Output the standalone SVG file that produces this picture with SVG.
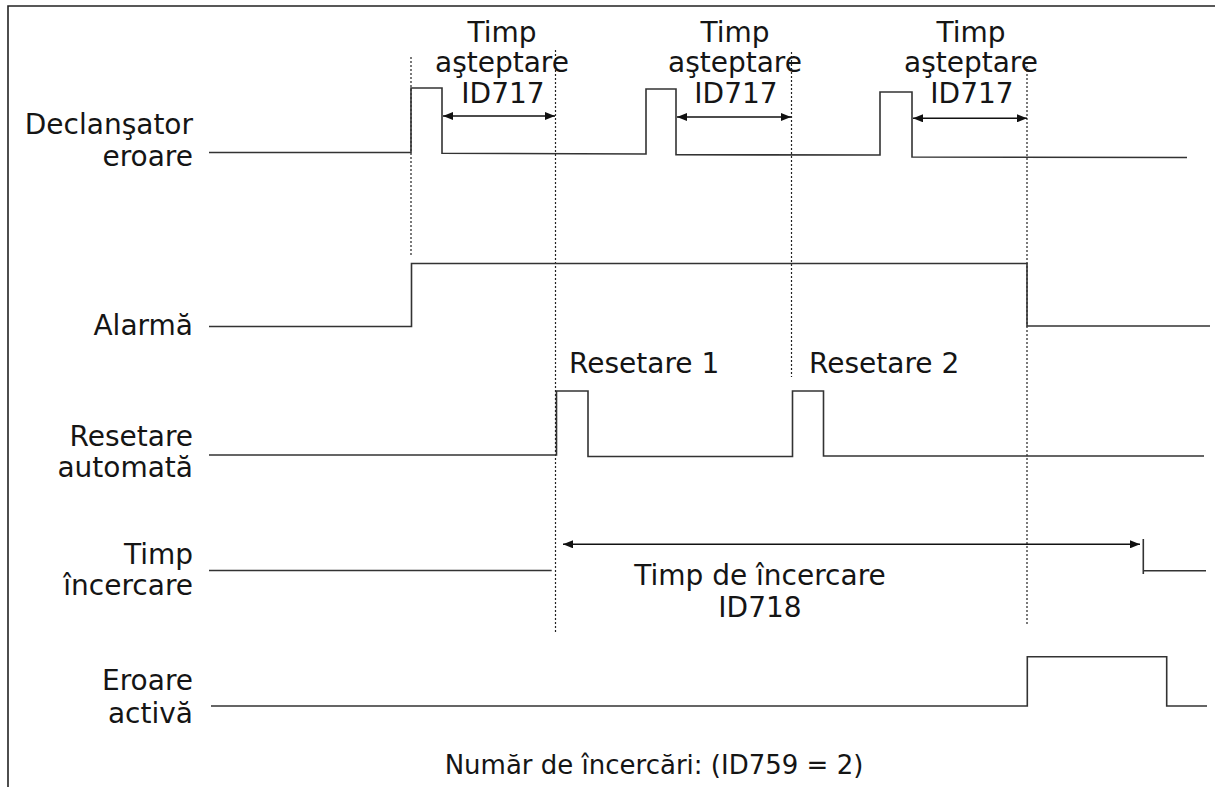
<svg xmlns="http://www.w3.org/2000/svg" width="1215" height="787" viewBox="0 0 1215 787">
<style>
text{font-family:"DejaVu Sans","Verdana",sans-serif;font-size:28px;fill:#151515}
.lbl{text-anchor:end}
.ctr{text-anchor:middle}
.sig{fill:none;stroke:#333;stroke-width:1.6}
.dot{fill:none;stroke:#222;stroke-width:1.2;stroke-dasharray:2,2}
.frame{fill:none;stroke:#222;stroke-width:1.6}
.arr{fill:none;stroke:#111;stroke-width:1.4}
</style>
<defs>
<marker id="ah" viewBox="0 0 10 8" refX="10" refY="4" markerWidth="10" markerHeight="8" markerUnits="userSpaceOnUse" orient="auto-start-reverse">
<path d="M0,0 L10,4 L0,8 Z" fill="#111"/>
</marker>
</defs>
<rect width="1215" height="787" fill="#fff"/>
<path class="frame" d="M8,787 V6 H1215"/>

<g id="labels">
<text class="lbl" x="193" y="134">Declanşator</text>
<text class="lbl" x="193" y="166">eroare</text>
<text class="lbl" x="193" y="335">Alarmă</text>
<text class="lbl" x="193" y="446">Resetare</text>
<text class="lbl" x="193" y="477">automată</text>
<text class="lbl" x="193" y="564">Timp</text>
<text class="lbl" x="193" y="595">încercare</text>
<text class="lbl" x="193" y="690">Eroare</text>
<text class="lbl" x="193" y="723">activă</text>
</g>

<g id="guides">
<line class="dot" x1="411" y1="57" x2="411" y2="255"/>
<line class="dot" x1="555.5" y1="50" x2="555.5" y2="632"/>
<line class="dot" x1="791.5" y1="52" x2="791.5" y2="377"/>
<line class="dot" x1="1027" y1="58" x2="1027" y2="624"/>
</g>

<g id="wait-labels">
<text class="ctr" x="502" y="42">Timp</text>
<text class="ctr" x="502" y="72">aşteptare</text>
<text class="ctr" x="503" y="103">ID717</text>
<text class="ctr" x="735" y="42">Timp</text>
<text class="ctr" x="735" y="72">aşteptare</text>
<text class="ctr" x="736" y="103">ID717</text>
<text class="ctr" x="971" y="42">Timp</text>
<text class="ctr" x="971" y="72">aşteptare</text>
<text class="ctr" x="972" y="103">ID717</text>
</g>

<g id="signals">
<polyline id="sig-trigger" class="sig" points="209,152.5 411,152.5 411,88 442,88 442,153.3 646,154 646,89 676,89 676,154.7 880,155 880,92 912,92 912,157 1187,157.5"/>
<path id="sig-alarm" class="sig" d="M209,326.5 H411.5 V263.5 H1027 V326 H1210"/>
<path id="sig-reset" class="sig" d="M209,455 H556.5 V391 H588 V456.5 H792.5 V391 H823.5 V456 H1204"/>
<path id="sig-trytime" class="sig" d="M209,570.5 H551.7 M1143.3,539 V574 M1143.3,570.7 H1206"/>
<path id="sig-fault" class="sig" d="M211,706 H1027.3 V656.7 H1166.7 V706 H1207"/>
</g>

<g id="connectors">
<line class="arr" x1="443" y1="116" x2="555" y2="116" marker-start="url(#ah)" marker-end="url(#ah)"/>
<line class="arr" x1="677" y1="117" x2="791" y2="117" marker-start="url(#ah)" marker-end="url(#ah)"/>
<line class="arr" x1="913" y1="118.3" x2="1027" y2="118.3" marker-start="url(#ah)" marker-end="url(#ah)"/>
<line class="arr" x1="563" y1="544.3" x2="1140" y2="544.3" marker-start="url(#ah)" marker-end="url(#ah)"/>
</g>

<g id="reset-labels">
<text x="569" y="373">Resetare 1</text>
<text x="809" y="373">Resetare 2</text>
</g>

<g id="trytime-label">
<text class="ctr" x="760" y="585">Timp de încercare</text>
<text class="ctr" x="760" y="617">ID718</text>
</g>

<g id="footer">
<text class="ctr" x="654" y="774" style="font-size:26px">Număr de încercări: (ID759 = 2)</text>
</g>
</svg>
